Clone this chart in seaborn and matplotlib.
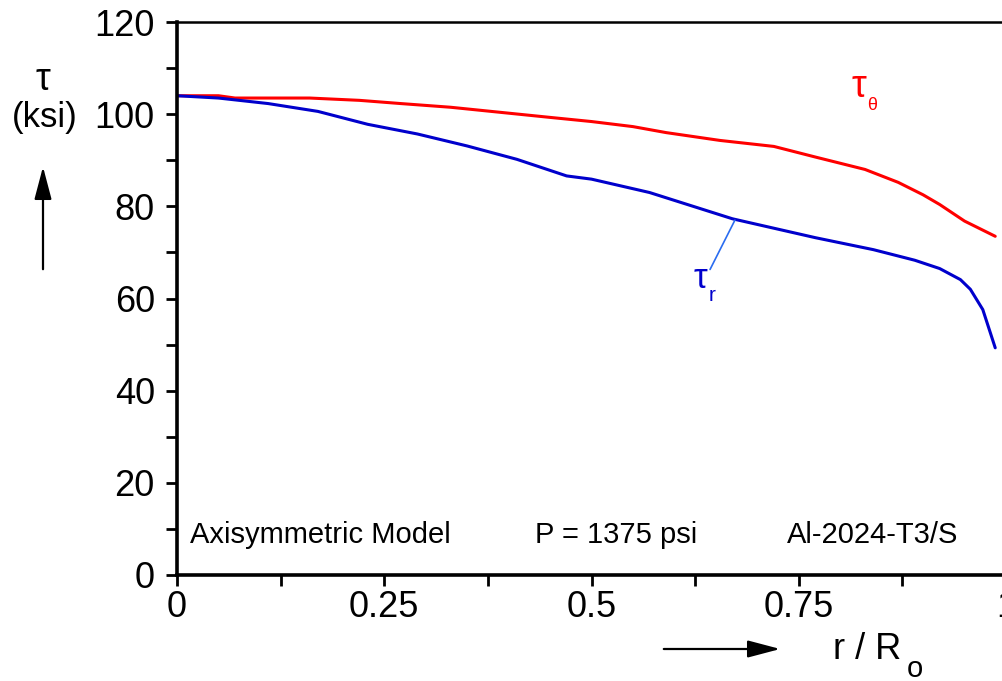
import matplotlib
matplotlib.use("Agg")
import matplotlib.pyplot as plt
import seaborn as sns
import pandas as pd

# ---- data ----
r_theta = [0.0, 0.05, 0.07, 0.16, 0.22, 0.27, 0.33, 0.39, 0.45, 0.50, 0.55,
           0.59, 0.655, 0.72, 0.77, 0.83, 0.87, 0.90, 0.92, 0.95, 0.987]
tau_theta = [104.0, 104.0, 103.5, 103.5, 103.0, 102.3, 101.5, 100.4, 99.3, 98.4, 97.3,
             96.0, 94.3, 93.0, 90.7, 88.0, 85.2, 82.5, 80.4, 76.8, 73.5]

r_radial = [0.0, 0.05, 0.11, 0.17, 0.23, 0.29, 0.35, 0.41, 0.47, 0.50, 0.57,
            0.67, 0.77, 0.84, 0.89, 0.92, 0.945, 0.957, 0.972, 0.987]
tau_radial = [104.0, 103.5, 102.3, 100.6, 97.8, 95.7, 93.1, 90.2, 86.6, 85.9, 83.0,
              77.3, 73.2, 70.6, 68.3, 66.5, 64.1, 62.0, 57.6, 49.3]

x_ticks = [0, 0.25, 0.5, 0.75, 1.0]
x_ticklabels = ["0", "0.25", "0.5", "0.75", "1"]
x_minor = [0.125, 0.375, 0.625, 0.875]
y_ticks = [0, 20, 40, 60, 80, 100, 120]
y_minor = [10, 30, 50, 70, 90, 110]

notes = ["Axisymmetric Model", "P = 1375 psi", "Al-2024-T3/S"]

# ---- style ----
sns.set_style("ticks")
plt.rcParams['font.family'] = ['Liberation Sans', 'DejaVu Sans']
plt.rcParams['axes.edgecolor'] = 'black'
plt.rcParams['xtick.color'] = 'black'
plt.rcParams['ytick.color'] = 'black'
plt.rcParams['text.color'] = 'black'
plt.rcParams['xtick.labelcolor'] = 'black'
plt.rcParams['ytick.labelcolor'] = 'black'

W, H = 1003, 681
fig = plt.figure(figsize=(W / 100, H / 100), dpi=100)
ax = fig.add_axes([177 / W, 106 / H, 829 / W, 553 / H])

df_t = pd.DataFrame({"r": r_theta, "tau": tau_theta})
df_r = pd.DataFrame({"r": r_radial, "tau": tau_radial})
sns.lineplot(data=df_t, x="r", y="tau", color="#ff0000", linewidth=2.2,
             estimator=None, sort=False, ax=ax)
sns.lineplot(data=df_r, x="r", y="tau", color="#0000cc", linewidth=2.2,
             estimator=None, sort=False, ax=ax)

ax.set_xlim(0, 1)
ax.set_ylim(0, 120)
ax.set_xticks(x_ticks)
ax.set_xticklabels(x_ticklabels)
ax.set_xticks(x_minor, minor=True)
ax.set_yticks(y_ticks)
ax.set_yticks(y_minor, minor=True)
ax.tick_params(which='both', direction='out', length=8, width=2)
ax.tick_params(axis='both', which='major', labelsize=26)
ax.tick_params(axis='x', pad=3)
ax.tick_params(axis='y', pad=8)
ax.set_xlabel("")
ax.set_ylabel("")

ax.spines['left'].set_linewidth(2.6)
ax.spines['bottom'].set_linewidth(2.6)
ax.spines['top'].set_linewidth(1.8)
ax.spines['top'].set_visible(True)
ax.spines['right'].set_visible(False)

# notes along the bottom
ax.text(0.016, 7, notes[0], fontsize=21, ha='left', va='baseline')
ax.text(0.432, 7, notes[1], fontsize=21, ha='left', va='baseline')
ax.text(0.736, 7, notes[2], fontsize=21, ha='left', va='baseline')

# curve labels
ax.text(0.8135, 105.8, "τ", color="#ff0000", fontsize=27, ha='left', va='center')
ax.text(0.832, 101.9, "θ", color="#ff0000", fontsize=13, ha='left', va='center')
ax.text(0.623, 64.3, "τ", color="#0000cc", fontsize=25, ha='left', va='center')
ax.text(0.641, 60.6, "r", color="#0000cc", fontsize=15, ha='left', va='center')
ax.plot([0.673, 0.643], [77.0, 66.3], color="#2a6cf0", linewidth=1.2)

# y-axis label with arrow
fig.text(43 / W, (H - 80) / H, "τ", fontsize=27, ha='center', va='center')
fig.text(45 / W, (H - 117) / H, "(ksi)", fontsize=25, ha='center', va='center')
fig.add_artist(matplotlib.patches.FancyArrowPatch(
    (43 / W, (H - 272) / H), (43 / W, (H - 164) / H), transform=fig.transFigure,
    arrowstyle='-|>,head_length=12.5,head_width=3.3', mutation_scale=1.6,
    color='black', linewidth=1.6))

# x-axis label with arrow
fig.text(833 / W, 22 / H, "r / R", fontsize=26, ha='left', va='baseline')
fig.text(907 / W, 4 / H, "o", fontsize=21, ha='left', va='baseline')
fig.add_artist(matplotlib.patches.FancyArrowPatch(
    (661 / W, (H - 649) / H), (783 / W, (H - 649) / H), transform=fig.transFigure,
    arrowstyle='-|>,head_length=12.5,head_width=3.3', mutation_scale=1.6,
    color='black', linewidth=1.6))

fig.savefig("out.png", dpi=100)
